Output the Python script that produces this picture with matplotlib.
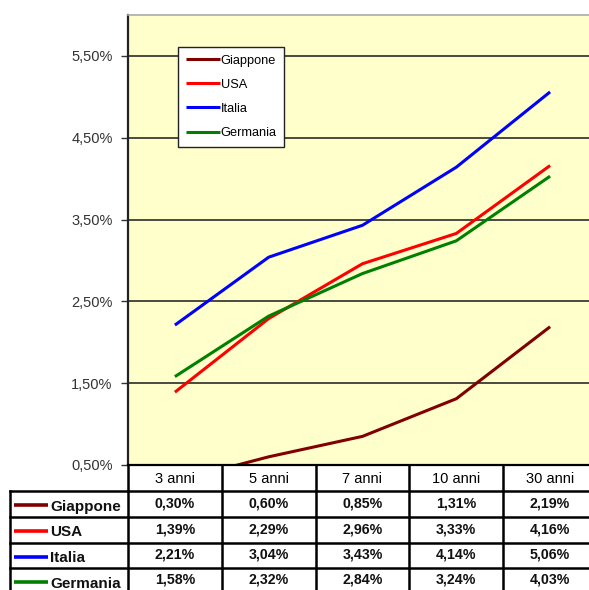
import matplotlib
matplotlib.use('Agg')
import matplotlib.pyplot as plt
from matplotlib.ticker import FuncFormatter

# data
categorie = ['3 anni', '5 anni', '7 anni', '10 anni', '30 anni']
paesi = ['Giappone', 'USA', 'Italia', 'Germania']
colori = ['#800000', '#FF0000', '#0000FF', '#008000']
giappone = [0.30, 0.60, 0.85, 1.31, 2.19]
usa = [1.39, 2.29, 2.96, 3.33, 4.16]
italia = [2.21, 3.04, 3.43, 4.14, 5.06]
germania = [1.58, 2.32, 2.84, 3.24, 4.03]
serie = [giappone, usa, italia, germania]
yticks = [0.5, 1.5, 2.5, 3.5, 4.5, 5.5]

plt.rcParams['font.family'] = ['Liberation Sans', 'DejaVu Sans']

W, H = 589, 590
fig = plt.figure(figsize=(W / 100, H / 100), dpi=100)

# main plot area (pixel box 128..597 x 15..465)
x0, x1, y0, y1 = 128, 597, 15, 465
ax = fig.add_axes([x0 / W, 1 - y1 / H, (x1 - x0) / W, (y1 - y0) / H])
ax.set_facecolor('#FFFFCC')
xs = list(range(len(categorie)))
for vals, nome, col in zip(serie, paesi, colori):
    ax.plot(xs, vals, color=col, lw=2.2, label=nome, solid_capstyle='butt')
ax.set_xlim(-0.5, len(categorie) - 0.5)
ax.set_ylim(0.5, 6.0)
ax.set_yticks(yticks)
ax.yaxis.set_major_formatter(FuncFormatter(lambda v, p: f'{v:.2f}%'.replace('.', ',')))
ax.tick_params(axis='y', length=5, width=1, pad=6, labelsize=10.5, labelcolor='#333333', colors='#333333')
ax.set_xticks([])
ax.grid(axis='y', color='#4a4a40', lw=1.4)
ax.set_axisbelow(True)
ax.spines['left'].set_linewidth(1.6)
ax.spines['left'].set_color('#222222')
ax.spines['bottom'].set_linewidth(1.6)
ax.spines['top'].set_color('#aaaaaa')
ax.spines['top'].set_linewidth(1.2)
ax.spines['right'].set_visible(False)

leg = ax.legend(loc='upper left', bbox_to_anchor=((178 - x0) / (x1 - x0), 1 - (47 - y0) / (y1 - y0)),
                borderaxespad=0, fontsize=9.2, frameon=True, fancybox=False, edgecolor='#222222',
                handlelength=2.7, handletextpad=0.05, labelspacing=0.95, borderpad=0.6)
leg.get_frame().set_linewidth(1.0)
leg.get_frame().set_facecolor('white')
leg.get_frame().set_alpha(1)

# table below (pixel coordinates)
tab = fig.add_axes([0, 0, 1, 1])
tab.set_xlim(0, W)
tab.set_ylim(H, 0)
tab.axis('off')
tab.patch.set_visible(False)

col_w = (x1 - x0) / len(categorie)
row_edges = [465, 491, 517, 543, 568, 594]
lw_t = 1.8
# header row
tab.plot([x0, x1], [row_edges[1], row_edges[1]], color='k', lw=lw_t)
for i, c in enumerate(categorie):
    cx = x0 + col_w * (i + 0.5)
    tab.text(cx, (row_edges[0] + row_edges[1]) / 2 + 1, c, ha='center', va='center', fontsize=10.5)
for i in range(len(categorie) + 1):
    tab.plot([x0 + col_w * i] * 2, [row_edges[0], H + 5], color='k', lw=lw_t)
# data rows
tab.plot([10, 10], [row_edges[1], H + 5], color='k', lw=lw_t)
tab.plot([10, x0], [row_edges[1], row_edges[1]], color='k', lw=lw_t)
for r, (vals, nome, col) in enumerate(zip(serie, paesi, colori)):
    ya, yb = row_edges[r + 1], row_edges[r + 2]
    cy = (ya + yb) / 2
    tab.plot([10, x1], [yb, yb], color='k', lw=lw_t)
    tab.plot([14, 48], [cy + 1, cy + 1], color=col, lw=2.6, solid_capstyle='butt')
    tab.text(50, cy + 2.5, nome, ha='left', va='center', fontsize=11, fontweight='bold', color='#111111')
    for i, v in enumerate(vals):
        cx = x0 + col_w * (i + 0.5)
        tab.text(cx, cy - 1, f'{v:.2f}%'.replace('.', ','), ha='center', va='center',
                 fontsize=10.2, fontweight='bold', color='#111111')

fig.savefig('out.png', dpi=100)
